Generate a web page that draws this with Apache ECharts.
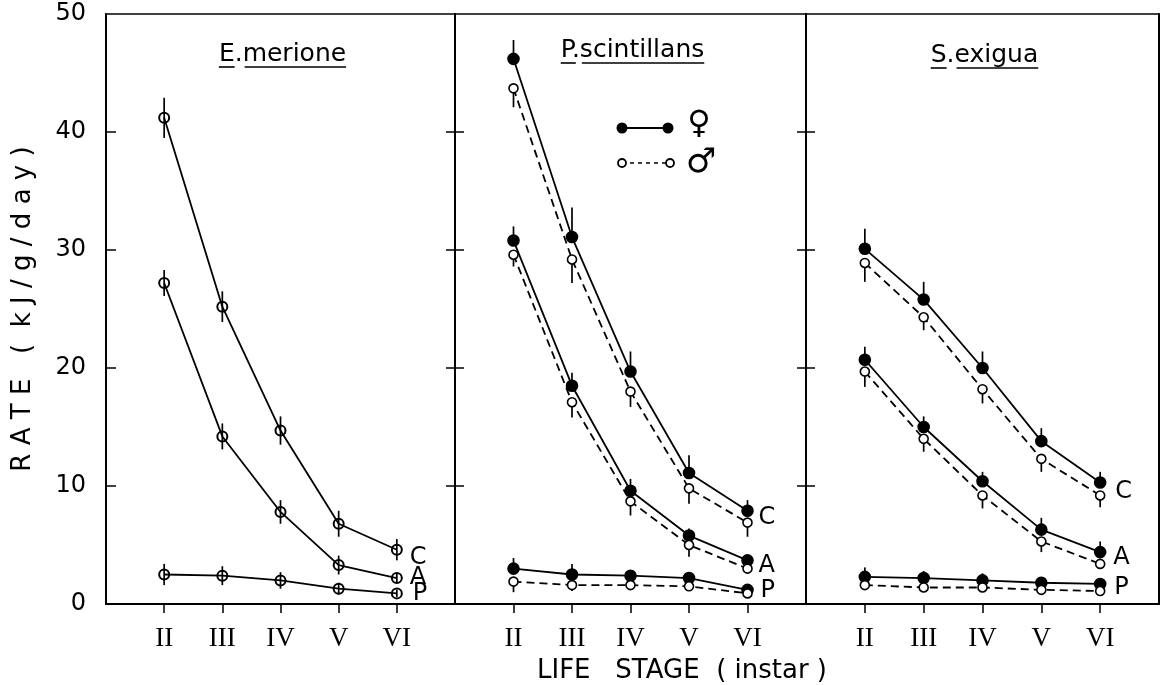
<!DOCTYPE html>
<html><head><meta charset="utf-8">
<script src="https://cdn.jsdelivr.net/npm/echarts@6/dist/echarts.min.js"></script>
<style>html,body{margin:0;padding:0;background:#fff}#c{width:1162px;height:685px}</style>
</head><body><div id="c"></div>
<script>
// ---------------- DATA ----------------
const stages = ['II', 'III', 'IV', 'V', 'VI'];
const stageValues = [2, 3, 4, 5, 6];
const yTickValues = [0, 10, 20, 30, 40, 50];
const innerTickValues = [10, 20, 30, 40];
const panelNames = ['E.merione', 'P.scintillans', 'S.exigua'];
const panelNameParts = [['E', 'merione'], ['P', 'scintillans'], ['S', 'exigua']];
const curveNames = ['C', 'A', 'P'];
const yAxisTitle = 'R A T E   (  k J / g / d a y )';
const xAxisTitle = 'LIFE   STAGE  ( instar )';
const legendFemale = '\u2640';
const legendMale = '\u2642';

// Panel 1: E. merione (sexes pooled)
const emC = [41.2, 25.2, 14.7, 6.8, 4.6];
const emCErr = [1.7, 1.3, 1.2, 1.1, 0.9];
const emA = [27.2, 14.2, 7.8, 3.3, 2.2];
const emAErr = [1.1, 1.1, 1.0, 0.8, 0.4];
const emP = [2.5, 2.4, 2.0, 1.3, 0.9];
const emPErr = [0.9, 0.8, 0.7, 0.5, 0.3];

// Panel 2: P. scintillans (F = female, M = male)
const psCF = [46.2, 31.1, 19.7, 11.1, 7.9];
const psCFErr = [1.6, 2.5, 1.7, 1.5, 0.9];
const psCM = [43.7, 29.2, 18.0, 9.8, 6.9];
const psCMErr = [1.6, 2.0, 1.3, 1.3, 1.2];
const psAF = [30.8, 18.5, 9.6, 5.8, 3.7];
const psAFErr = [1.2, 1.1, 1.0, 0.6, 0.4];
const psAM = [29.6, 17.1, 8.7, 5.0, 3.0];
const psAMErr = [1.0, 1.3, 1.2, 1.0, 0.3];
const psPF = [3.0, 2.5, 2.4, 2.2, 1.2];
const psPFErr = [0.9, 0.9, 0.4, 0.3, 0.3];
const psPM = [1.9, 1.6, 1.6, 1.5, 0.9];
const psPMErr = [0.9, 0.5, 0.3, 0.3, 0.3];

// Panel 3: S. exigua
const seCF = [30.1, 25.8, 20.0, 13.8, 10.3];
const seCFErr = [1.7, 1.5, 1.4, 1.1, 0.9];
const seCM = [28.9, 24.3, 18.2, 12.3, 9.2];
const seCMErr = [1.6, 1.1, 1.2, 1.1, 1.0];
const seAF = [20.7, 15.0, 10.4, 6.3, 4.4];
const seAFErr = [1.1, 0.9, 0.8, 1.0, 0.9];
const seAM = [19.7, 14.0, 9.2, 5.3, 3.4];
const seAMErr = [1.3, 1.1, 1.1, 0.9, 0.4];
const sePF = [2.3, 2.2, 2.0, 1.8, 1.7];
const sePFErr = [0.8, 0.6, 0.6, 0.3, 0.3];
const sePM = [1.6, 1.4, 1.4, 1.2, 1.1];
const sePMErr = [0.3, 0.3, 0.3, 0.3, 0.3];

// ---------------- LAYOUT ----------------
const FONT = 'DejaVu Sans';
const gridTop = 14, gridHeight = 590;
const panels = [{left: 106, width: 349}, {left: 455, width: 351}, {left: 806, width: 353}];
const titleY = [54, 50, 55];

const chart = echarts.init(document.getElementById('c'), null, {renderer: 'canvas'});

const grids = panels.map(p => ({left: p.left, width: p.width, top: gridTop, height: gridHeight,
  show: true, borderColor: '#000', borderWidth: 1.5, backgroundColor: 'transparent'}));

const xAxes = panels.map((p, g) => ({
  type: 'value', gridIndex: g, min: 1, max: 7, interval: 1,
  axisLine: {show: true, lineStyle: {color: '#000', width: 2}},
  axisTick: {show: true, customValues: stageValues, length: 9, inside: false, lineStyle: {color: '#000', width: 1.5}},
  axisLabel: {show: true, customValues: stageValues, margin: 21, color: '#000', fontSize: 27, fontFamily: 'Liberation Serif',
    formatter: v => { const i = stageValues.indexOf(v); return i >= 0 ? stages[i] : ''; }},
  splitLine: {show: false}
}));

function yAx(g, pos, tickLen, showTick, showLabel) {
  return {
    type: 'value', gridIndex: g, position: pos, min: 0, max: 50, interval: 10,
    axisLine: {show: true, onZero: false, lineStyle: {color: '#000', width: 2}},
    axisTick: {show: showTick, inside: true, length: tickLen, customValues: innerTickValues, lineStyle: {color: '#000', width: 1.5}},
    axisLabel: {show: showLabel, customValues: yTickValues, margin: 20, color: '#000', fontSize: 24, fontFamily: FONT},
    splitLine: {show: false}
  };
}
const yAxes = [
  yAx(0, 'left', 10, true, true),
  yAx(0, 'right', 9, true, false),
  yAx(1, 'left', 9, true, false),
  yAx(1, 'right', 9, true, false),
  yAx(2, 'left', 9, true, false),
  yAx(2, 'right', 9, false, false)
];
Object.assign(yAxes[0], {
  name: yAxisTitle, nameLocation: 'middle', nameGap: 70,
  nameTextStyle: {color: '#000', fontSize: 26, fontFamily: FONT}
});

const series = [];
function addCurve(g, values, errs, o) {
  const yi = g * 2;
  series.push({
    type: 'custom', xAxisIndex: g, yAxisIndex: yi, z: o.barZ || 1, silent: true,
    encode: {x: 0, y: 1},
    data: values.map((v, i) => [stageValues[i], v, errs[i]]),
    renderItem: (params, api) => {
      const x = api.value(0), y = api.value(1), e = api.value(2);
      const hi = o.errDir === 'down' ? y : y + e;
      const lo = o.errDir === 'up' ? y : y - e;
      const a = api.coord([x, hi]), b = api.coord([x, lo]);
      return {type: 'line', shape: {x1: a[0], y1: a[1], x2: b[0], y2: b[1]}, style: {stroke: '#000', lineWidth: 1.7}};
    }
  });
  const s = {
    type: 'line', xAxisIndex: g, yAxisIndex: yi, z: 2,
    data: values.map((v, i) => [stageValues[i], v]),
    symbol: 'circle', symbolSize: o.size,
    itemStyle: {color: o.filled ? '#000' : (o.hollow ? 'rgba(0,0,0,0)' : '#fff'), borderColor: '#000', borderWidth: o.hollow ? 2 : 1.6},
    lineStyle: {color: '#000', width: 1.8, type: o.dashed ? [8, 5] : 'solid'},
    emphasis: {disabled: true}
  };
  if (o.label) {
    s.endLabel = {show: true, formatter: o.label, color: '#000', fontSize: 24, fontFamily: FONT,
      distance: 6, offset: o.labelOffset || [0, 0]};
  }
  series.push(s);
}

// Panel 1
addCurve(0, emC, emCErr, {size: 10, hollow: true, errDir: 'both', barZ: 3, label: curveNames[0], labelOffset: [7, 8]});
addCurve(0, emA, emAErr, {size: 10, hollow: true, errDir: 'both', barZ: 3, label: curveNames[1], labelOffset: [7, 0]});
addCurve(0, emP, emPErr, {size: 10, hollow: true, errDir: 'both', barZ: 3, label: curveNames[2], labelOffset: [10, 0]});
// Panel 2
addCurve(1, psCF, psCFErr, {size: 11, filled: true, errDir: 'up', label: curveNames[0], labelOffset: [5, 7]});
addCurve(1, psCM, psCMErr, {size: 9, dashed: true, errDir: 'down'});
addCurve(1, psAF, psAFErr, {size: 11, filled: true, errDir: 'up', label: curveNames[1], labelOffset: [5, 5]});
addCurve(1, psAM, psAMErr, {size: 9, dashed: true, errDir: 'down'});
addCurve(1, psPF, psPFErr, {size: 11, filled: true, errDir: 'up', label: curveNames[2], labelOffset: [7, 1]});
addCurve(1, psPM, psPMErr, {size: 9, dashed: true, errDir: 'down'});
// Panel 3
addCurve(2, seCF, seCFErr, {size: 11, filled: true, errDir: 'up', label: curveNames[0], labelOffset: [9, 9]});
addCurve(2, seCM, seCMErr, {size: 9, dashed: true, errDir: 'down'});
addCurve(2, seAF, seAFErr, {size: 11, filled: true, errDir: 'up', label: curveNames[1], labelOffset: [7, 6]});
addCurve(2, seAM, seAMErr, {size: 9, dashed: true, errDir: 'down'});
addCurve(2, sePF, sePFErr, {size: 11, filled: true, errDir: 'up', label: curveNames[2], labelOffset: [8, 4]});
addCurve(2, sePM, sePMErr, {size: 9, dashed: true, errDir: 'down'});

// ---------------- TEXT / DECORATION ----------------
const ctx = document.createElement('canvas').getContext('2d');
const titleFont = '25px "' + FONT + '"';
ctx.font = titleFont;
const graphics = [];
panels.forEach((p, g) => {
  const cx = p.left + p.width / 2 + 2;
  const cy = titleY[g];
  const full = panelNames[g];
  const W = ctx.measureText(full).width;
  const x0 = cx - W / 2;
  const w1 = ctx.measureText(panelNameParts[g][0]).width;
  const w1d = ctx.measureText(panelNameParts[g][0] + '.').width;
  graphics.push({type: 'text', x: cx, y: cy, style: {text: full, font: titleFont, fill: '#000',
    textAlign: 'center', textVerticalAlign: 'middle', align: 'center', verticalAlign: 'middle'}});
  const uy = cy + 13;
  graphics.push({type: 'line', shape: {x1: x0, y1: uy, x2: x0 + w1, y2: uy}, style: {stroke: '#000', lineWidth: 1.6}});
  graphics.push({type: 'line', shape: {x1: x0 + w1d + 2, y1: uy, x2: x0 + W, y2: uy}, style: {stroke: '#000', lineWidth: 1.6}});
});

// x-axis title
graphics.push({type: 'text', x: 682, y: 671, style: {text: xAxisTitle, font: '26px "' + FONT + '"', fill: '#000',
  textAlign: 'center', textVerticalAlign: 'middle', align: 'center', verticalAlign: 'middle'}});

// legend (panel 2)
const lg = {x1: 622, x2: 668, yF: 128, yM: 163};
graphics.push({type: 'line', shape: {x1: lg.x1, y1: lg.yF, x2: lg.x2, y2: lg.yF}, style: {stroke: '#000', lineWidth: 2}});
graphics.push({type: 'circle', shape: {cx: lg.x1, cy: lg.yF, r: 5.5}, style: {fill: '#000'}});
graphics.push({type: 'circle', shape: {cx: lg.x2, cy: lg.yF, r: 5.5}, style: {fill: '#000'}});
graphics.push({type: 'line', shape: {x1: lg.x1, y1: lg.yM, x2: lg.x2 + 2, y2: lg.yM}, style: {stroke: '#000', lineWidth: 1.5, lineDash: [4, 4]}});
graphics.push({type: 'circle', shape: {cx: lg.x1, cy: lg.yM, r: 4}, style: {fill: '#fff', stroke: '#000', lineWidth: 1.8}});
graphics.push({type: 'circle', shape: {cx: lg.x2 + 2, cy: lg.yM, r: 4}, style: {fill: '#fff', stroke: '#000', lineWidth: 1.8}});
graphics.push({type: 'text', x: 699, y: 125, style: {text: legendFemale, font: '32px "' + FONT + '"', fill: '#000',
  textAlign: 'center', textVerticalAlign: 'middle', align: 'center', verticalAlign: 'middle'}});
graphics.push({type: 'text', x: 701, y: 163, style: {text: legendMale, font: '34px "' + FONT + '"', fill: '#000',
  textAlign: 'center', textVerticalAlign: 'middle', align: 'center', verticalAlign: 'middle'}});

chart.setOption({
  animation: false,
  backgroundColor: '#fff',
  grid: grids,
  xAxis: xAxes,
  yAxis: yAxes,
  series: series,
  graphic: {elements: graphics}
});
</script>
</body></html>
